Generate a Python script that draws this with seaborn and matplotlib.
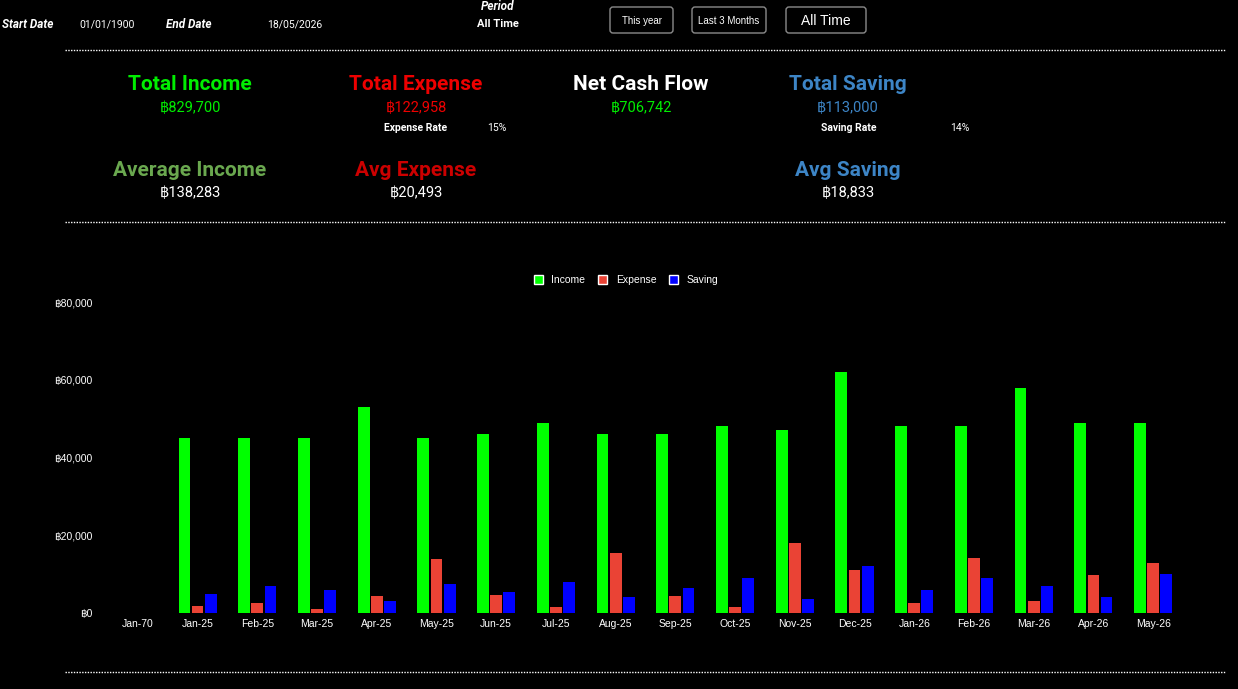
import pandas as pd
import matplotlib.pyplot as plt
import seaborn as sns
from matplotlib.lines import Line2D
from matplotlib.patches import FancyBboxPatch, Patch

# monthly data
months = ['Jan-70', 'Jan-25', 'Feb-25', 'Mar-25', 'Apr-25', 'May-25', 'Jun-25', 'Jul-25', 'Aug-25',
          'Sep-25', 'Oct-25', 'Nov-25', 'Dec-25', 'Jan-26', 'Feb-26', 'Mar-26', 'Apr-26', 'May-26']
income = [0, 45000, 45000, 45000, 53000, 45000, 46000, 49000, 46000,
          46000, 48000, 47000, 62000, 48000, 48000, 58000, 49000, 49000]
expense = [0, 1900, 2600, 1000, 4300, 13800, 4700, 1600, 15500,
           4300, 1600, 17900, 11100, 2600, 14200, 3000, 9900, 12900]
saving = [0, 5000, 7000, 6000, 3000, 7500, 5500, 8000, 4000,
          6500, 9000, 3500, 12000, 6000, 9000, 7000, 4000, 10000]

series_names = ['Income', 'Expense', 'Saving']
series_colors = ['#00ff00', '#ea4335', '#0000ff']
y_ticks = [0, 20000, 40000, 60000, 80000]

# KPI cards
kpi_titles = ['Total Income', 'Total Expense', 'Net Cash Flow', 'Total Saving']
kpi_values = ['฿829,700', '฿122,958', '฿706,742', '฿113,000']
avg_titles = ['Average Income', 'Avg Expense', 'Avg Saving']
avg_values = ['฿138,283', '฿20,493', '฿18,833']
expense_rate = '15%'
saving_rate = '14%'

df = pd.DataFrame({'Month': months, 'Income': income, 'Expense': expense, 'Saving': saving})
long_df = df.melt(id_vars='Month', var_name='Type', value_name='Amount')

sns.set_theme(style='dark')
plt.rcParams['font.family'] = ['Roboto', 'Noto Sans', 'DejaVu Sans']

W, H = 1238, 689
fig = plt.figure(figsize=(W / 100, H / 100), dpi=100, facecolor='black')


def put(x, y, s, **kw):
    kw.setdefault('va', 'center')
    kw.setdefault('ha', 'center')
    kw.setdefault('color', 'white')
    fig.text(x / 100, (H - y) / 100, s, transform=fig.dpi_scale_trans, **kw)


def dotted(y, x0=65, x1=1226):
    fig.add_artist(Line2D([x0 / 100, x1 / 100], [(H - y) / 100] * 2, transform=fig.dpi_scale_trans,
                          color='white', lw=1, ls=(0, (1, 1))))


def button(x0, y0, x1, y1, label, size):
    fig.add_artist(FancyBboxPatch((x0 / 100, (H - y1) / 100), (x1 - x0) / 100, (y1 - y0) / 100,
                                  boxstyle='round,pad=0,rounding_size=0.03', transform=fig.dpi_scale_trans,
                                  fc='black', ec='#8a8a8a', lw=1))
    put((x0 + x1) / 2, (y0 + y1) / 2 + 1, label, fontsize=size, family=['Liberation Sans', 'DejaVu Sans'])


# header row
put(2, 24, 'Start Date', ha='left', fontsize=8.5, weight='bold', style='italic')
put(79, 24, '01/01/1900', ha='left', fontsize=7.5)
put(166, 24, 'End Date', ha='left', fontsize=8.5, weight='bold', style='italic')
put(267, 24, '18/05/2026', ha='left', fontsize=7.5)
put(498, 6, 'Period', fontsize=8.5, weight='bold', style='italic')
put(498, 24, 'All Time', fontsize=8, weight='bold')
button(610, 7, 673, 33, 'This year', 7)
button(692, 7, 766, 33, 'Last 3 Months', 7)
button(786, 7, 866, 33, 'All Time', 10)

dotted(50)
dotted(222)
dotted(672)

# KPI block
title_colors = ['#00ee00', '#ee0000', 'white', '#3d85c6']
value_colors = ['#00ee00', '#ee0000', '#00ee00', '#3d85c6']
for cx, t, v, tc, vc in zip([190, 416, 641, 848], kpi_titles, kpi_values, title_colors, value_colors):
    put(cx, 84, t, fontsize=15, weight='bold', color=tc)
    put(cx, 108, v, fontsize=10.5, color=vc)

put(416, 128, 'Expense Rate', fontsize=7.5, weight='bold')
put(497, 128, expense_rate, fontsize=7.5)
put(849, 128, 'Saving Rate', fontsize=7.5, weight='bold')
put(960, 128, saving_rate, fontsize=7.5)

for cx, t, v, tc in zip([190, 416, 848], avg_titles, avg_values, ['#6aa84f', '#cc0000', '#3d85c6']):
    put(cx, 170, t, fontsize=15, weight='bold', color=tc)
    put(cx, 193, v, fontsize=10.5)

# bar chart
ax = fig.add_axes([108 / W, 1 - 613 / H, (1183 - 108) / W, (613 - 302) / H])
ax.set_facecolor('black')
sns.barplot(data=long_df, x='Month', y='Amount', hue='Type', hue_order=series_names,
            palette=series_colors, width=0.66, gap=0.1, saturation=1, linewidth=0,
            edgecolor='none', ax=ax, legend=False)
ax.set_ylim(0, 80000)
ax.set_yticks(y_ticks)
ax.set_yticklabels([f'฿{v:,}' for v in y_ticks])
ax.set_xlabel('')
ax.set_ylabel('')
ax.grid(False)
for s in ax.spines.values():
    s.set_visible(False)
ax.tick_params(axis='y', length=0, pad=11, colors='white', labelsize=7.5)
ax.tick_params(axis='x', length=0, pad=4, colors='white', labelsize=7.5)
for lab in ax.get_xticklabels() + ax.get_yticklabels():
    lab.set_family(['Liberation Sans', 'DejaVu Sans'])

handles = [Patch(facecolor=c, label=n) for n, c in zip(series_names, series_colors)]
leg = fig.legend(handles=handles, loc='center', bbox_to_anchor=(626 / W, 1 - 280 / H), ncol=3,
                 frameon=False, handlelength=0.9, handleheight=1.0, handletextpad=0.8,
                 columnspacing=1.2, labelcolor='white',
                 prop={'family': ['Liberation Sans', 'DejaVu Sans'], 'size': 7.5})

fig.savefig('out.png', dpi=100, facecolor='black')
